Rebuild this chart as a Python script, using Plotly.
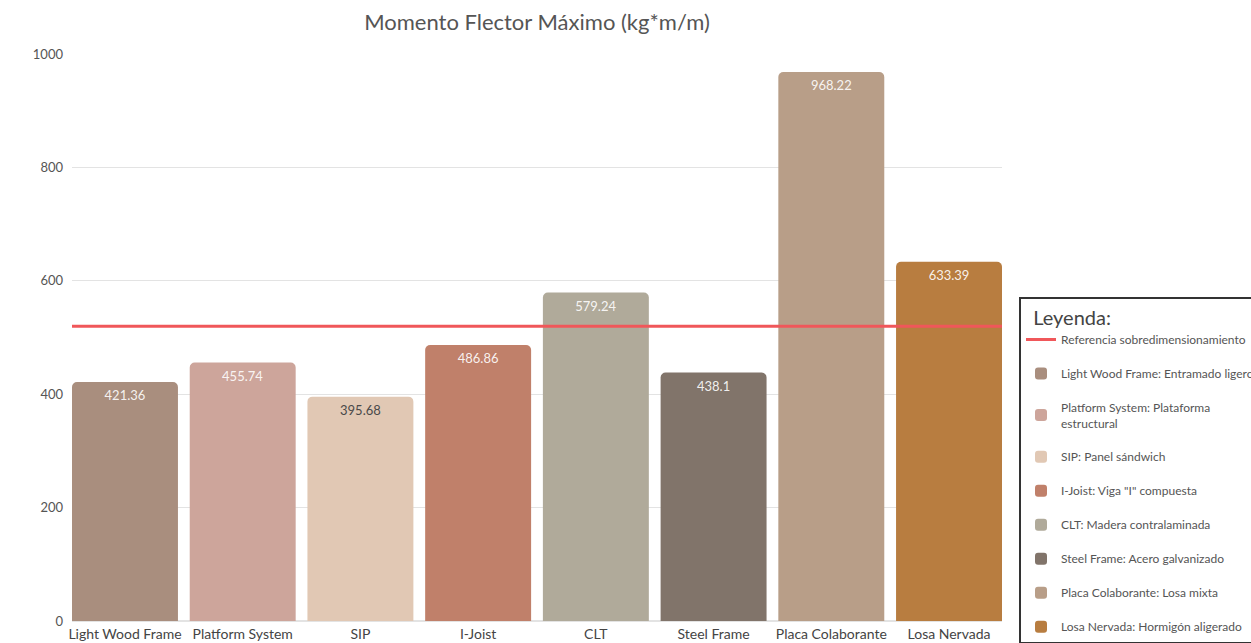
import plotly.graph_objects as go

# Bending moment per floor system
categories = ["Light Wood Frame", "Platform System", "SIP", "I-Joist", "CLT",
              "Steel Frame", "Placa Colaborante", "Losa Nervada"]
legend_names = ["Light Wood Frame: Entramado ligero",
                "Platform System: Plataforma<br>estructural",
                "SIP: Panel sándwich",
                "I-Joist: Viga \"I\" compuesta",
                "CLT: Madera contralaminada",
                "Steel Frame: Acero galvanizado",
                "Placa Colaborante: Losa mixta",
                "Losa Nervada: Hormigón aligerado"]
values = [421.36, 455.74, 395.68, 486.86, 579.24, 438.1, 968.22, 633.39]
colors = ["#A98E7E", "#CDA59B", "#E1C8B4", "#C0806A", "#B0AA9A",
          "#81746A", "#B89E88", "#B87D40"]
label_colors = ["rgba(255,255,255,0.9)"] * 8
label_colors[2] = "#4a4a4a"

reference_value = 520
reference_name = "Referencia sobredimensionamiento"

FONT = "Lato, 'Noto Sans', sans-serif"
BAR_W = 0.9
x_lo, x_hi = -BAR_W / 2, len(categories) - 1 + BAR_W / 2

fig = go.Figure()

fig.add_trace(go.Scatter(
    x=[x_lo, x_hi], y=[reference_value, reference_value],
    mode="lines", line=dict(color="#F0575A", width=3),
    name=reference_name, legendgroup="ref", hoverinfo="skip",
))

for i, (cat, name, val, col, lc) in enumerate(zip(categories, legend_names, values, colors, label_colors)):
    fig.add_trace(go.Bar(
        x=[i], y=[val], name=name, legendgroup=cat,
        marker=dict(color=col, line=dict(width=0)),
        text=[f"{val:g}"], textposition="inside", insidetextanchor="end",
        textangle=0,
        textfont=dict(color=lc, size=13, family=FONT),
        width=BAR_W,
    ))

fig.update_layout(
    width=1251, height=643,
    margin=dict(l=72, r=249, t=54, b=22, autoexpand=False),
    plot_bgcolor="white", paper_bgcolor="white",
    barcornerradius=5,
    font=dict(family=FONT, color="#555"),
    title=dict(text="Momento Flector Máximo (kg*m/m)", x=(72 + 1002) / 2 / 1251,
               xanchor="center", y=0.965, yanchor="middle",
               font=dict(size=22, color="#555", family=FONT)),
    xaxis=dict(range=[x_lo, x_hi], tickmode="array",
               tickvals=list(range(len(categories))), ticktext=categories,
               showgrid=False, zeroline=False, showline=False,
               tickfont=dict(size=14, color="#444"), ticks="", ticklen=0,
               ticklabelstandoff=3),
    yaxis=dict(range=[0, 1000], tickvals=[0, 200, 400, 600, 800, 1000],
               showgrid=True, gridcolor="#e3e3e3", gridwidth=1,
               zeroline=True, zerolinecolor="#e3e3e3",
               tickfont=dict(size=13, color="#555"), ticks="", ticklen=0,
               ticklabelstandoff=8),
    legend=dict(
        x=(1019 - 72) / 930, y=(621 - 297) / 567, xanchor="left", yanchor="top",
        bordercolor="#333", borderwidth=2, bgcolor="white",
        title=dict(text="  Leyenda:", font=dict(size=20, color="#444", family=FONT)),
        font=dict(size=12, color="#555", family=FONT),
        traceorder="grouped", tracegroupgap=15, itemwidth=30,
    ),
    showlegend=True,
)

fig.write_html("out.html")
